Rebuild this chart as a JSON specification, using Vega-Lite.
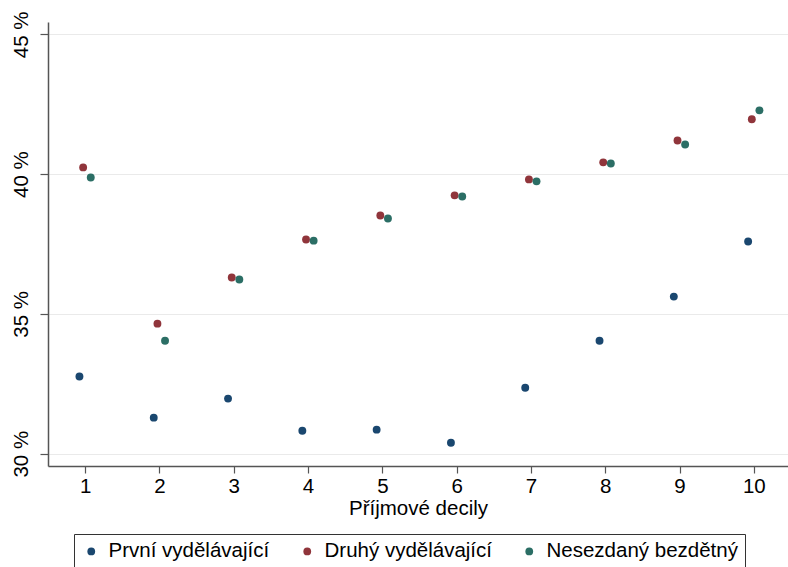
{
  "$schema": "https://vega.github.io/schema/vega-lite/v6.json",
  "autosize": "none",
  "width": 740,
  "height": 444,
  "padding": {"left": 48, "top": 22, "right": 0, "bottom": 101},
  "background": "white",
  "config": {
    "font": "Liberation Sans",
    "view": {"stroke": null},
    "axis": {"labelFont": "Liberation Sans", "titleFont": "Liberation Sans", "labelColor": "#000000", "titleColor": "#000000", "labelFontSize": 20.5, "titleFontSize": 20.5, "titleFontWeight": "normal", "domainColor": "#555555", "tickColor": "#555555", "domainWidth": 1.5, "tickWidth": 1.2, "gridColor": "#eaeaea", "gridWidth": 1.2}
  },
  "data": {"values": [
    {"decile": 1, "series": "První vydělávající", "value": 32.76},
    {"decile": 2, "series": "První vydělávající", "value": 31.29},
    {"decile": 3, "series": "První vydělávající", "value": 31.97},
    {"decile": 4, "series": "První vydělávající", "value": 30.82},
    {"decile": 5, "series": "První vydělávající", "value": 30.86},
    {"decile": 6, "series": "První vydělávající", "value": 30.39},
    {"decile": 7, "series": "První vydělávající", "value": 32.36},
    {"decile": 8, "series": "První vydělávající", "value": 34.04},
    {"decile": 9, "series": "První vydělávající", "value": 35.62},
    {"decile": 10, "series": "První vydělávající", "value": 37.59},
    {"decile": 1, "series": "Druhý vydělávající", "value": 40.24},
    {"decile": 2, "series": "Druhý vydělávající", "value": 34.65},
    {"decile": 3, "series": "Druhý vydělávající", "value": 36.30},
    {"decile": 4, "series": "Druhý vydělávající", "value": 37.66},
    {"decile": 5, "series": "Druhý vydělávající", "value": 38.52},
    {"decile": 6, "series": "Druhý vydělávající", "value": 39.24},
    {"decile": 7, "series": "Druhý vydělávající", "value": 39.81},
    {"decile": 8, "series": "Druhý vydělávající", "value": 40.42},
    {"decile": 9, "series": "Druhý vydělávající", "value": 41.20},
    {"decile": 10, "series": "Druhý vydělávající", "value": 41.96},
    {"decile": 1, "series": "Nesezdaný bezdětný", "value": 39.88},
    {"decile": 2, "series": "Nesezdaný bezdětný", "value": 34.04},
    {"decile": 3, "series": "Nesezdaný bezdětný", "value": 36.23},
    {"decile": 4, "series": "Nesezdaný bezdětný", "value": 37.62},
    {"decile": 5, "series": "Nesezdaný bezdětný", "value": 38.41},
    {"decile": 6, "series": "Nesezdaný bezdětný", "value": 39.20},
    {"decile": 7, "series": "Nesezdaný bezdětný", "value": 39.74},
    {"decile": 8, "series": "Nesezdaný bezdětný", "value": 40.38},
    {"decile": 9, "series": "Nesezdaný bezdětný", "value": 41.06},
    {"decile": 10, "series": "Nesezdaný bezdětný", "value": 42.28}
  ]},
  "encoding": {
    "x": {"field": "decile", "type": "quantitative", "scale": {"domain": [0.5, 10.46], "nice": false, "zero": false},
      "axis": {"title": "Příjmové decily", "values": [1,2,3,4,5,6,7,8,9,10], "grid": false, "tickSize": 7, "labelPadding": 3, "titlePadding": 2}},
    "y": {"field": "value", "type": "quantitative", "scale": {"domain": [29.56, 45.44], "nice": false, "zero": false},
      "axis": {"title": null, "values": [30, 35, 40, 45], "labelExpr": "datum.value + ' %'", "labelAngle": -90, "labelAlign": "center", "labelBaseline": "bottom", "tickSize": 8, "labelPadding": 9, "grid": true}},
    "color": {"field": "series", "type": "nominal",
      "scale": {"domain": ["První vydělávající", "Druhý vydělávající", "Nesezdaný bezdětný"], "range": ["#1a476f", "#90353b", "#2b6e65"]},
      "legend": {"title": null, "orient": "none", "legendX": 26, "legendY": 512, "direction": "horizontal", "symbolType": "circle", "symbolSize": 60, "labelFontSize": 20.5, "labelFont": "Liberation Sans", "labelColor": "#000000", "labelOffset": 7, "columnPadding": 27, "padding": 7, "strokeColor": "#333333", "labelLimit": 400}}
  },
  "layer": [
    {"transform": [{"filter": "datum.series === 'První vydělávající'"}], "mark": {"type": "circle", "size": 62, "opacity": 1, "xOffset": -5.7}},
    {"transform": [{"filter": "datum.series === 'Druhý vydělávající'"}], "mark": {"type": "circle", "size": 62, "opacity": 1, "xOffset": -2}},
    {"transform": [{"filter": "datum.series === 'Nesezdaný bezdětný'"}], "mark": {"type": "circle", "size": 62, "opacity": 1, "xOffset": 5.6}}
  ]
}
